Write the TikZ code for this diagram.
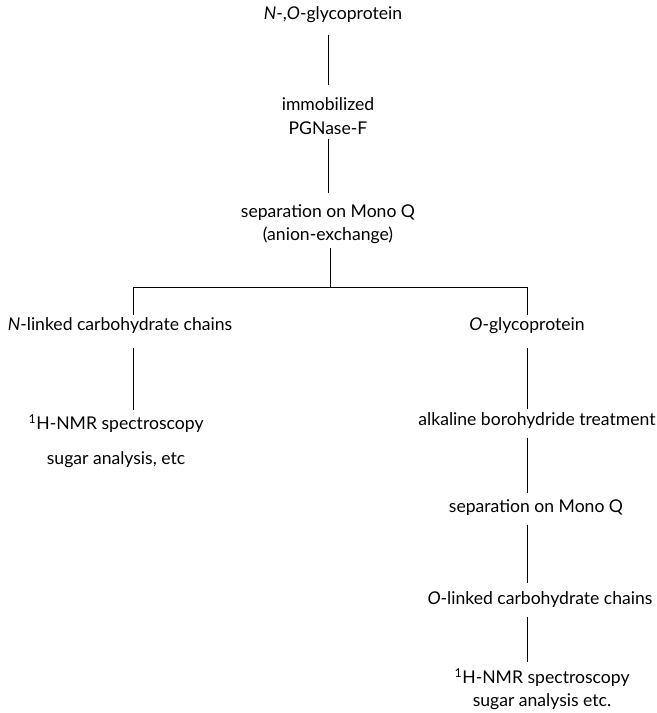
\documentclass[tikz,border=0pt]{standalone}
\usepackage{fontspec}
\setmainfont{Lato}
\usepackage{tikz}

\begin{document}
\begin{tikzpicture}[x=0.025cm, y=-0.025cm,
    lbl/.style={font=\fontsize{12.5}{16.5}\selectfont, inner sep=2pt, align=center},
    link/.style={line width=0.6pt}]
  \useasboundingbox (0,0) rectangle (657,713);

  % main column
  \node[lbl] (glyco) at (333,15) {\textit{N}-,\textit{O}-glycoprotein};
  \node[lbl] (enzyme) at (328,116) {immobilized\\ PGNase-F};
  \node[lbl] (monoq) at (328,224) {separation on Mono Q\\(anion-exchange)};

  % branch point
  \coordinate (jc) at (330,287);
  \coordinate (jl) at (133,287);
  \coordinate (jr) at (527,287);

  % left branch
  \node[lbl] (nlinked) at (120,326) {\textit{N}-linked carbohydrate chains};
  \node[lbl] (nmrl) at (116,441) {\textsuperscript{1}H-NMR spectroscopy\\[8pt] sugar analysis, etc};

  % right branch
  \node[lbl] (oglyco) at (527,326) {\textit{O}-glycoprotein};
  \node[lbl] (alkali) at (537,421) {alkaline borohydride treatment};
  \node[lbl] (monoq2) at (536,508) {separation on Mono Q};
  \node[lbl] (olinked) at (540,600) {\textit{O}-linked carbohydrate chains};
  \node[lbl] (nmrr) at (542,689) {\textsuperscript{1}H-NMR spectroscopy\\ sugar analysis etc.};

  \draw[link, shorten <=6pt, shorten >=7pt] (glyco.south -| enzyme.north) -- (enzyme.north);
  \draw[link, shorten <=1pt, shorten >=6pt] (enzyme.south) -- (monoq.north);
  \draw[link, shorten <=1pt] (monoq.south -| jc) -- (jc);
  \draw[link] (jl) -- (jr);
  \draw[link] (jl) -- (jl |- nlinked.north);
  \draw[link] (jr) -- (oglyco.north);
  \draw[link, shorten <=8pt, shorten >=1pt] (nlinked.south -| jl) -- (nmrl.north -| jl);
  \draw[link, shorten <=8pt, shorten >=1pt] (oglyco.south) -- (alkali.north -| oglyco);
  \draw[link, shorten <=4pt, shorten >=3pt] (alkali.south -| oglyco) -- (monoq2.north -| oglyco);
  \draw[link, shorten <=4pt, shorten >=4pt] (monoq2.south -| oglyco) -- (olinked.north -| oglyco);
  \draw[link, shorten <=4pt, shorten >=2pt] (olinked.south -| oglyco) -- (nmrr.north -| oglyco);
\end{tikzpicture}
\end{document}
